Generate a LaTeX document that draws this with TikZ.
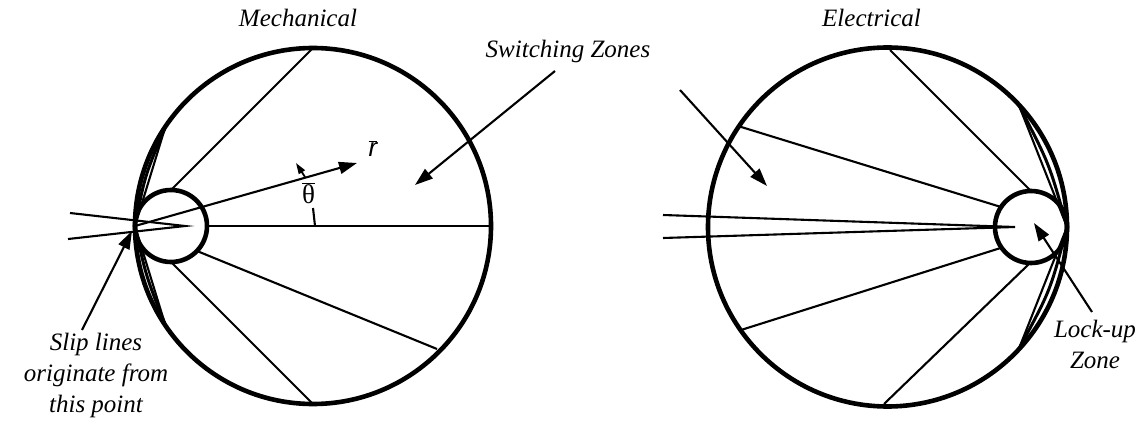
\documentclass[tikz,border=0pt]{standalone}
\usepackage{fontspec}
\setmainfont{Liberation Serif}
\newfontfamily\arialf{Liberation Sans}
\usetikzlibrary{arrows.meta}
\tikzset{
  bigc/.style={line width=4.6pt},
  smallc/.style={line width=4.6pt},
  midarc/.style={line width=3pt},
  thin/.style={line width=2.1pt},
  arr/.style={line width=2.1pt,-{Triangle[length=18pt,width=12pt]}},
  sarr/.style={line width=1.8pt,-{Triangle[length=11pt,width=7pt]}},
  lbl/.style={font=\fontsize{25}{31}\selectfont\itshape, inner sep=0pt, anchor=base}
}
\begin{document}
\begin{tikzpicture}[x=1pt,y=-1pt]
\useasboundingbox (0,0) rectangle (1143,425);
% ---------------- Mechanical ----------------
\coordinate (L) at (313,226);
\coordinate (Ls) at (171,226);
\coordinate (S) at (135,226);
\draw[bigc] (L) circle[radius=178];
\draw[smallc] (Ls) circle[radius=36];
% lines from the small circle outward
\coordinate (Lp1) at (313,48);
\coordinate (Lp2) at (313,404);
\coordinate (Lp3) at (437,349);
\coordinate (Lq1) at (171,190);
\coordinate (Lq2) at (171,262);
\coordinate (Lq3) at (197,251);
\draw[thin] (Lq1) -- (Lp1);
\draw[thin] (Lq2) -- (Lp2);
\draw[thin] (Lq3) -- (Lp3);
\coordinate (Lh0) at (207,226);
\coordinate (Lh1) at (491,226);
\draw[thin] (Lh0) -- (Lh1);
% slip lines at the edge
\coordinate (Ls1) at (165,128);
\coordinate (Ls2) at (165,324);
\draw[thin] (S) -- (Ls1);
\draw[thin] (S) -- (Ls2);
\draw[midarc] (S) .. controls (144.9,175.4) .. (Ls1);
\draw[midarc] (S) .. controls (145.9,276) .. (Ls2);
% wedge
\coordinate (Lw0) at (185,226);
\coordinate (Lw1) at (70,213);
\coordinate (Lw2) at (68,239);
\draw[thin] (Lw1) -- (Lw0) -- (Lw2);
% r bar
\coordinate (Rtip) at (357,163);
\draw[arr] (S) -- (Rtip);
\node[inner sep=0pt] (rbar) at (373,149) {\fontsize{26}{30}\selectfont$\overline{\mbox{\arialf\itshape r}}$};
% theta bar
\node[inner sep=0pt] (th) at (308.5,193) {\fontsize{27}{30}\selectfont$\overline{\mbox{θ}}$};
\coordinate (Ta0) at (315,226);
\coordinate (Ta1) at (313,208);
\coordinate (Ta2) at (305,177);
\coordinate (Ta3) at (296,163);
\draw[thin] (Ta0) -- (Ta1);
\draw[sarr] (Ta2) -- (Ta3);
% labels
\node[lbl] (mech) at (298,27) {Mechanical};
\node[lbl] (slip1) at (96,350) {Slip lines};
\node[lbl] (slip2) at (96,381) {originate from};
\node[lbl] (slip3) at (96,412) {this point};
\coordinate (Sa0) at (82,330);
\coordinate (Sa1) at (132,231);
\draw[arr] (Sa0) -- (Sa1);
\node[lbl] (sw) at (568,58) {Switching Zones};
\coordinate (Sw0) at (555,71);
\coordinate (Sw1) at (415,185);
\coordinate (Sw2) at (680,90);
\coordinate (Sw3) at (767,186);
\draw[arr] (Sw0) -- (Sw1);
\draw[arr] (Sw2) -- (Sw3);
% ---------------- Electrical ----------------
\coordinate (R) at (887.5,227);
\coordinate (Rs) at (1031,227);
\coordinate (S2) at (1067,227);
\draw[bigc] (R) circle[radius=179.5];
\draw[smallc] (Rs) circle[radius=36];
\coordinate (Rp1) at (890,50);
\coordinate (Rp2) at (884,404);
\coordinate (Rp3) at (738,126);
\coordinate (Rp4) at (741,330);
\coordinate (Rq1) at (1031,191);
\coordinate (Rq2) at (1030,263);
\coordinate (Rq3) at (1001,207);
\coordinate (Rq4) at (1001.5,247.7);
\draw[thin] (Rq1) -- (Rp1);
\draw[thin] (Rq2) -- (Rp2);
\draw[thin] (Rq3) -- (Rp3);
\draw[thin] (Rq4) -- (Rp4);
\coordinate (Rs1) at (1019,105.5);
\coordinate (Rs2) at (1019,348.5);
\draw[thin] (S2) -- (Rs1);
\draw[thin] (S2) -- (Rs2);
\draw[midarc] (S2) .. controls (1049.4,163.9) .. (Rs1);
\draw[midarc] (S2) .. controls (1050.4,290.7) .. (Rs2);
\coordinate (Rw0) at (1015,227);
\coordinate (Rw1) at (663,215);
\coordinate (Rw2) at (663,238);
\draw[thin] (Rw1) -- (Rw0) -- (Rw2);
\node[lbl] (elec) at (871.5,27) {Electrical};
\node[lbl] (lock1) at (1095,337) {Lock-up};
\node[lbl] (lock2) at (1095,368) {Zone};
\coordinate (La0) at (1092,312);
\coordinate (La1) at (1034,223);
\draw[arr] (La0) -- (La1);
\end{tikzpicture}
\end{document}
